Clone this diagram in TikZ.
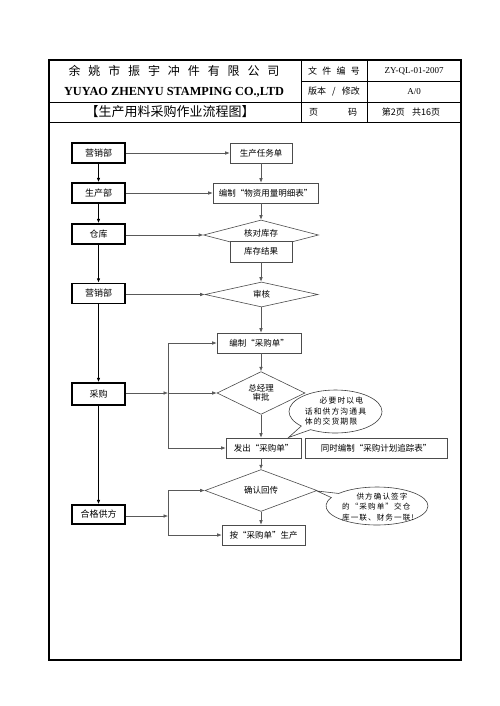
\documentclass[tikz,border=0pt]{standalone}
\usepackage{fontspec}
\setmainfont{Liberation Serif}
\newfontfamily\enbf{Liberation Serif}[BoldFont={* Bold}]
\newfontfamily\cjk{Noto Sans CJK SC}
\newfontfamily\cjksp[LetterSpace=14]{Noto Sans CJK SC}
\usetikzlibrary{shapes.geometric,shapes.callouts,arrows.meta}
\begin{document}
\begin{tikzpicture}[x=1pt,y=-1pt,
  frame/.style={line width=1.3pt,black},
  hline/.style={line width=0.8pt,black},
  htext/.style={inner sep=0pt,font=\cjk\fontsize{9}{10}\selectfont},
  lbox/.style={draw,line width=1.4pt,minimum width=53pt,minimum height=20pt,inner sep=0pt,fill=white,font=\cjk\fontsize{9}{10}\selectfont},
  rbox/.style={draw=black!70,line width=0.6pt,minimum height=20pt,inner sep=0pt,fill=white,font=\cjk\fontsize{8.5}{10}\selectfont},
  dia/.style={diamond,draw=black!70,line width=0.6pt,inner sep=0pt,fill=white,font=\cjk\fontsize{8.5}{10}\selectfont},
  arr/.style={-{Latex[length=4.5pt,width=3.6pt]},line width=0.6pt,draw=black!65},
  larr/.style={-{Latex[length=4.5pt,width=3.6pt]},line width=1pt,draw=black},
  call/.style={ellipse callout,draw=black!75,line width=0.6pt,fill=white,inner sep=0pt},
  ctext/.style={align=left,inner sep=0pt,font=\cjksp\fontsize{7.8}{10.5}\selectfont}
]
\useasboundingbox (0,0) rectangle (500,706);
\fill[white] (0,0) rectangle (500,706);
% ---------- frame & header ----------
\draw[frame] (49,60) rectangle (461,660);
\draw[hline] (49,102) -- (461,102);
\draw[hline] (49,122) -- (461,122);
\draw[hline] (301,81) -- (461,81);
\draw[hline] (301,60) -- (301,122);
\draw[hline] (367,60) -- (367,122);
\node[inner sep=0pt,font=\cjk\fontsize{12}{14}\selectfont] (hcn) at (174,71)
  {\makebox[211pt][s]{余\hfill 姚\hfill 市\hfill 振\hfill 宇\hfill 冲\hfill 件\hfill 有\hfill 限\hfill 公\hfill 司}};
\node[inner sep=0pt,font=\enbf\bfseries\fontsize{12.3}{14}\selectfont] (hen) at (174,92)
  {YUYAO ZHENYU STAMPING CO.,LTD};
\node[inner sep=0pt,font=\cjk\fontsize{13}{15}\selectfont] (htitle) at (170,112) {【生产用料采购作业流程图】};
\node[htext] (h11) at (334,71) {\makebox[52pt][s]{文\hfill 件\hfill 编\hfill 号}};
\node[htext] (h21) at (334,92) {\makebox[52pt][s]{版本\hfill /\hfill 修改}};
\node[htext] (h31) at (333,112) {\makebox[48pt][s]{页\hfill 码}};
\node[inner sep=0pt,font=\fontsize{9}{10}\selectfont] (h12) at (414,71) {ZY-QL-01-2007};
\node[inner sep=0pt,font=\fontsize{9}{10}\selectfont] (h22) at (414,92) {A/0};
\node[htext] (h32) at (411,112) {第2页\hspace{0.8em}共16页};
% ---------- left column ----------
\node[lbox] (L1) at (98.5,153) {营销部};
\node[lbox] (L2) at (98.5,193) {生产部};
\node[lbox] (L3) at (98.5,234) {仓库};
\node[lbox] (L4) at (98.5,293.5) {营销部};
\node[lbox,minimum height=22pt] (L5) at (98.5,394) {采购};
\node[lbox,minimum height=19pt] (L6) at (98.5,514.5) {合格供方};
% ---------- right column ----------
\node[rbox,minimum width=62pt] (R1) at (261,153) {生产任务单};
\node[rbox,minimum width=105pt] (R2) at (265.5,193) {编制“物资用量明细表”};
\node[dia,minimum width=115pt,minimum height=30pt] (D1) at (261,235) {};
\node[inner sep=0pt,font=\cjk\fontsize{8.5}{10}\selectfont] (D1t) at (261,233.5) {核对库存};
\node[rbox,minimum width=62pt,minimum height=21pt] (K) at (261,251.5) {库存结果};
\node[dia,minimum width=113pt,minimum height=25pt] (D2) at (261.5,294.5) {审核};
\node[rbox,minimum width=84pt] (R3) at (259,343) {编制“采购单”};
\node[dia,minimum width=88pt,minimum height=40pt,align=center,font=\cjk\fontsize{8.5}{9.5}\selectfont] (D3) at (261,393) {总经理\\审批};
\node[rbox,minimum width=75pt] (R4) at (263.5,448) {发出“采购单”};
\node[rbox,minimum width=142pt] (R5) at (376,448) {同时编制“采购计划追踪表”};
\node[dia,minimum width=112pt,minimum height=25pt] (D4) at (261,490.5) {确认回传};
\node[rbox,minimum width=83pt] (R6) at (263.5,535) {按“采购单”生产};
% ---------- callouts ----------
\coordinate (P1) at (288.5,437.5);
\coordinate (P2) at (317,491);
\node[call,minimum width=93pt,minimum height=43pt,callout absolute pointer={(P1)}] (C1) at (335.5,411.5) {};
\node[ctext] (C1t) at (335.5,411.5) {\hspace*{1.9em}必要时以电\\话和供方沟通具\\体的交货期限};
\node[call,minimum width=102pt,minimum height=38pt,callout absolute pointer={(P2)}] (C2) at (377,506) {};
\node[ctext,font=\cjksp\fontsize{7.6}{10.5}\selectfont] (C2t) at (378,507) {\hspace*{1.9em}供方确认签字\\的“采购单”交仓\\库一联、财务一联!};
% ---------- junctions ----------
\coordinate (J1) at (168,393);
\coordinate (J2) at (168,516);
% ---------- left vertical ----------
\draw[larr] (L1.south) -- (L2.north);
\draw[larr] (L2.south) -- (L3.north);
\draw[larr] (L3.south) -- (L4.north);
\draw[larr] (L4.south) -- (L5.north);
\draw[larr] (L5.south) -- (L6.north);
% ---------- horizontal ----------
\draw[arr] (L1.east) -- (R1.west);
\draw[arr] (L2.east) -- (R2.west);
\draw[arr] (L3.east |- D1.west) -- (D1.west);
\draw[arr] (L4.east |- D2.west) -- (D2.west);
\draw[arr] (L5.east |- J1) -- (J1);
\draw[arr] (J1) |- (R3.west);
\draw[arr] (J1) -- (D3.west);
\draw[arr] (J1) |- (R4.west);
\draw[arr] (L6.east |- J2) -- (J2);
\draw[arr] (J2) |- (D4.west);
\draw[arr] (J2) |- (R6.west);
% ---------- main flow ----------
\draw[arr] (R1.south) -- (R1.south |- R2.north);
\draw[arr] (D1.north |- R2.south) -- (D1.north);
\draw[arr] (K.south) -- (K.south |- D2.north);
\draw[arr] (K.south |- D2.south) -- (K.south |- R3.north);
\draw[arr] (D3.north |- R3.south) -- (D3.north);
\draw[arr] (D3.south) -- (D3.south |- R4.north);
\draw[arr] (D4.north |- R4.south) -- (D4.north);
\draw[arr] (D4.south) -- (D4.south |- R6.north);
\end{tikzpicture}
\end{document}
